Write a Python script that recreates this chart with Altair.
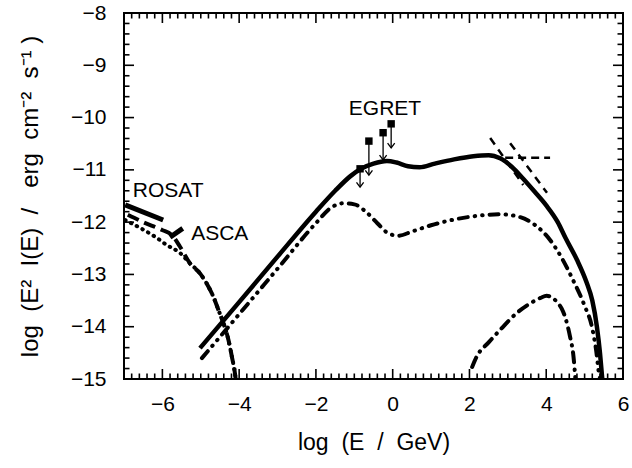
import altair as alt
import pandas as pd
import numpy as np

# ---------------- data ----------------
# total model (thick solid)
total_x = [-5.02, -4.0, -3.0, -2.0, -1.5, -1.1, -0.8, -0.5, -0.15, 0.1, 0.4, 0.7, 1.1, 1.6, 2.1,
           2.5, 2.8, 3.1, 3.4, 3.7, 4.0, 4.3, 4.5, 4.8, 5.05, 5.2, 5.32, 5.4, 5.46]
total_y = [-14.41, -13.53, -12.66, -11.80, -11.40, -11.12, -10.97, -10.88, -10.83, -10.86, -10.93,
           -10.95, -10.88, -10.80, -10.74, -10.72, -10.78, -10.94, -11.17, -11.42, -11.68, -12.0,
           -12.3, -12.72, -13.15, -13.5, -14.0, -14.5, -15.0]
# second model (dash-dot-dot)
c2_x = [-4.97, -4.0, -3.0, -2.0, -1.6, -1.3, -1.0, -0.7, -0.4, -0.1, 0.15, 0.5, 1.0, 1.6, 2.2,
        2.8, 3.3, 3.7, 4.1, 4.4, 4.7, 5.0, 5.19, 5.3, 5.38, 5.41]
c2_y = [-14.60, -13.76, -12.89, -12.02, -11.72, -11.64, -11.66, -11.80, -12.02, -12.22, -12.26,
        -12.18, -12.06, -11.95, -11.88, -11.85, -11.90, -12.05, -12.34, -12.68, -13.11, -13.6,
        -14.0, -14.45, -14.92, -15.0]
# third model (dash-dot, lower right)
c3_x = [2.07, 2.19, 2.5, 2.8, 3.23, 3.66, 3.85, 4.01, 4.15, 4.27, 4.4, 4.49, 4.62, 4.71, 4.76]
c3_y = [-14.77, -14.57, -14.3, -14.06, -13.74, -13.52, -13.45, -13.41, -13.44, -13.52, -13.65,
        -13.81, -14.19, -14.57, -15.0]
# X-ray region models (dashed and dotted)
ld_x = [-6.9, -6.5, -6.01, -5.75, -5.54, -5.28, -5.02, -4.85, -4.67, -4.54, -4.41, -4.28, -4.19,
        -4.11, -4.09]
ld_y = [-11.86, -12.0, -12.15, -12.25, -12.47, -12.79, -12.98, -13.17, -13.43, -13.68, -13.93,
        -14.25, -14.57, -14.89, -15.0]
lt_x = [-6.97, -6.58, -6.19, -5.88, -5.54, -5.28, -5.02, -4.85, -4.67, -4.54, -4.41, -4.28, -4.19,
        -4.11, -4.09]
lt_y = [-11.96, -12.11, -12.28, -12.44, -12.59, -12.79, -12.98, -13.17, -13.43, -13.68, -13.93,
        -14.25, -14.57, -14.89, -15.0]
# ROSAT and ASCA data segments
rosat_x = [-6.97, -5.98]
rosat_y = [-11.67, -11.96]
asca_x = [-5.80, -5.47]
asca_y = [-12.29, -12.12]
# TeV spectra (dashed)
tev1_x = [2.54, 3.40]
tev1_y = [-10.39, -11.29]
tev2_x = [3.06, 4.02]
tev2_y = [-10.49, -11.44]
tev3_x = [2.93, 4.10]
tev3_y = [-10.77, -10.77]
# EGRET upper limits
eg_x = [-0.85, -0.62, -0.25, -0.04]
eg_y = [-10.98, -10.45, -10.29, -10.12]
eg_tip = [-11.33, -11.10, -10.81, -10.58]
# labels
lab_text = ["EGRET", "ROSAT", "ASCA"]
lab_x = [-0.2, -6.77, -5.25]
lab_y = [-9.84, -11.40, -12.23]
lab_align = ["center", "left", "left"]

# axis ticks
x_major = [-6, -4, -2, 0, 2, 4]
y_major = [-9, -10, -11, -12, -13, -14]
x_labels = [-6, -4, -2, 0, 2, 4, 6]
y_labels = [-8, -9, -10, -11, -12, -13, -14, -15]

NB = "\u00a0"
x_title = f"log{NB} (E{NB} /{NB} GeV)"
y_title = f"log{NB} (E²{NB} I(E){NB} /{NB} {NB}erg{NB} cm⁻²{NB} s⁻¹ )"

# ---------------- layout ----------------
W, H = 499, 366
XMIN, XMAX, YMIN, YMAX = -7, 6, -15, -8
FONT = "Liberation Sans"
px_x = W / (XMAX - XMIN)
px_y = H / (YMAX - YMIN)

X = alt.Scale(domain=[XMIN, XMAX], nice=False, zero=False)
Y = alt.Scale(domain=[YMIN, YMAX], nice=False, zero=False)

axis_common = dict(ticks=False, tickSize=0, domain=False, grid=False,
                   labelOverlap=False, labelFont=FONT, labelFontSize=21, titleFont=FONT,
                   titleFontWeight="normal", labelColor="black",
                   titleColor="black", format="d")
XAX = alt.Axis(values=x_labels, title=x_title, labelFlush=False, titleFontSize=23,
               labelPadding=14, titlePadding=17, **axis_common)
YAX = alt.Axis(values=y_labels, title=y_title, labelFlush=False, titleFontSize=24,
               labelPadding=18, titlePadding=28, **axis_common)


def ex(field="x"):
    return alt.X(f"{field}:Q", scale=X, axis=XAX)


def ey(field="y"):
    return alt.Y(f"{field}:Q", scale=Y, axis=YAX)


x_minor = [round(v, 2) for v in np.arange(XMIN, XMAX + 0.001, 0.2)]
y_minor = [round(v, 2) for v in np.arange(YMIN, YMAX + 0.001, 0.2)]

MAJ, MIN = 10.0, 5.5
vt = []
for v in x_minor:
    L = (MAJ if any(abs(v - m) < 1e-6 for m in x_major) else MIN) / px_y
    vt.append({"x": v, "y": YMIN, "y2": YMIN + L})
    vt.append({"x": v, "y": YMAX, "y2": YMAX - L})
ht = []
for v in y_minor:
    L = (MAJ if any(abs(v - m) < 1e-6 for m in y_major) else MIN) / px_x
    ht.append({"y": v, "x": XMIN, "x2": XMIN + L})
    ht.append({"y": v, "x": XMAX, "x2": XMAX - L})

xticks = alt.Chart(pd.DataFrame(vt)).mark_rule(color="black", strokeWidth=1.6).encode(
    x=ex(), y=ey(), y2="y2:Q")
yticks = alt.Chart(pd.DataFrame(ht)).mark_rule(color="black", strokeWidth=1.6).encode(
    y=ey(), x=ex(), x2="x2:Q")


def dfl(xs, ys):
    return pd.DataFrame({"x": xs, "y": ys, "i": list(range(len(xs)))})


def line(xs, ys, **mk):
    return alt.Chart(dfl(xs, ys)).mark_line(clip=True, color="black", **mk).encode(
        x=ex(), y=ey(), order="i:Q")


total = line(total_x, total_y, strokeWidth=4.5, interpolate="monotone")
curve2 = line(c2_x, c2_y, strokeWidth=4, interpolate="monotone",
              strokeDash=[9, 7, 0.5, 7, 0.5, 7], strokeCap="round")
curve3 = line(c3_x, c3_y, strokeWidth=4, interpolate="monotone",
              strokeDash=[10, 7, 0.5, 7], strokeCap="round")
left_dash = line(ld_x, ld_y, strokeWidth=4, interpolate="monotone", strokeDash=[12, 6])
left_dot = line(lt_x, lt_y, strokeWidth=4, interpolate="monotone",
                strokeDash=[0.5, 6], strokeCap="round")
rosat = line(rosat_x, rosat_y, strokeWidth=5)
asca = line(asca_x, asca_y, strokeWidth=5)
tev1 = line(tev1_x, tev1_y, strokeWidth=2.5, strokeDash=[8, 6])
tev2 = line(tev2_x, tev2_y, strokeWidth=2.5, strokeDash=[8, 6])
tev3 = line(tev3_x, tev3_y, strokeWidth=2.5, strokeDash=[8, 5])

eg = pd.DataFrame({"x": eg_x, "y": eg_y, "tip": eg_tip})
eg_lines = alt.Chart(eg).mark_rule(color="black", strokeWidth=1.3).encode(
    x=ex(), y=ey(), y2="tip:Q")
eg_heads = alt.Chart(eg).mark_point(shape="M-0.75,-1L0,0L0.75,-1", filled=False,
                                    color="black", strokeWidth=1.3, size=90, opacity=1).encode(
    x=ex(), y=ey("tip"))
eg_sq = alt.Chart(eg).mark_square(color="black", size=55, opacity=1).encode(x=ex(), y=ey())

labs = pd.DataFrame({"t": lab_text, "x": lab_x, "y": lab_y, "a": lab_align})
texts = []
for al in ["center", "left"]:
    texts.append(alt.Chart(labs[labs.a == al]).mark_text(
        font=FONT, fontSize=21, align=al, baseline="middle", color="black").encode(
        x=ex(), y=ey(), text="t:N"))

chart = alt.layer(
    xticks, yticks, left_dot, left_dash, rosat, asca, curve3, curve2, total,
    tev1, tev2, tev3, eg_lines, eg_heads, eg_sq, *texts
).properties(
    width=W, height=H,
    autosize=alt.AutoSizeParams(type="none"),
    padding={"left": 124, "top": 13, "right": 632 - 124 - W, "bottom": 468 - 13 - H},
    background="white",
).configure_view(stroke="black", strokeWidth=2)

chart.save("out.html", embed_options={"renderer": "svg", "actions": False})
